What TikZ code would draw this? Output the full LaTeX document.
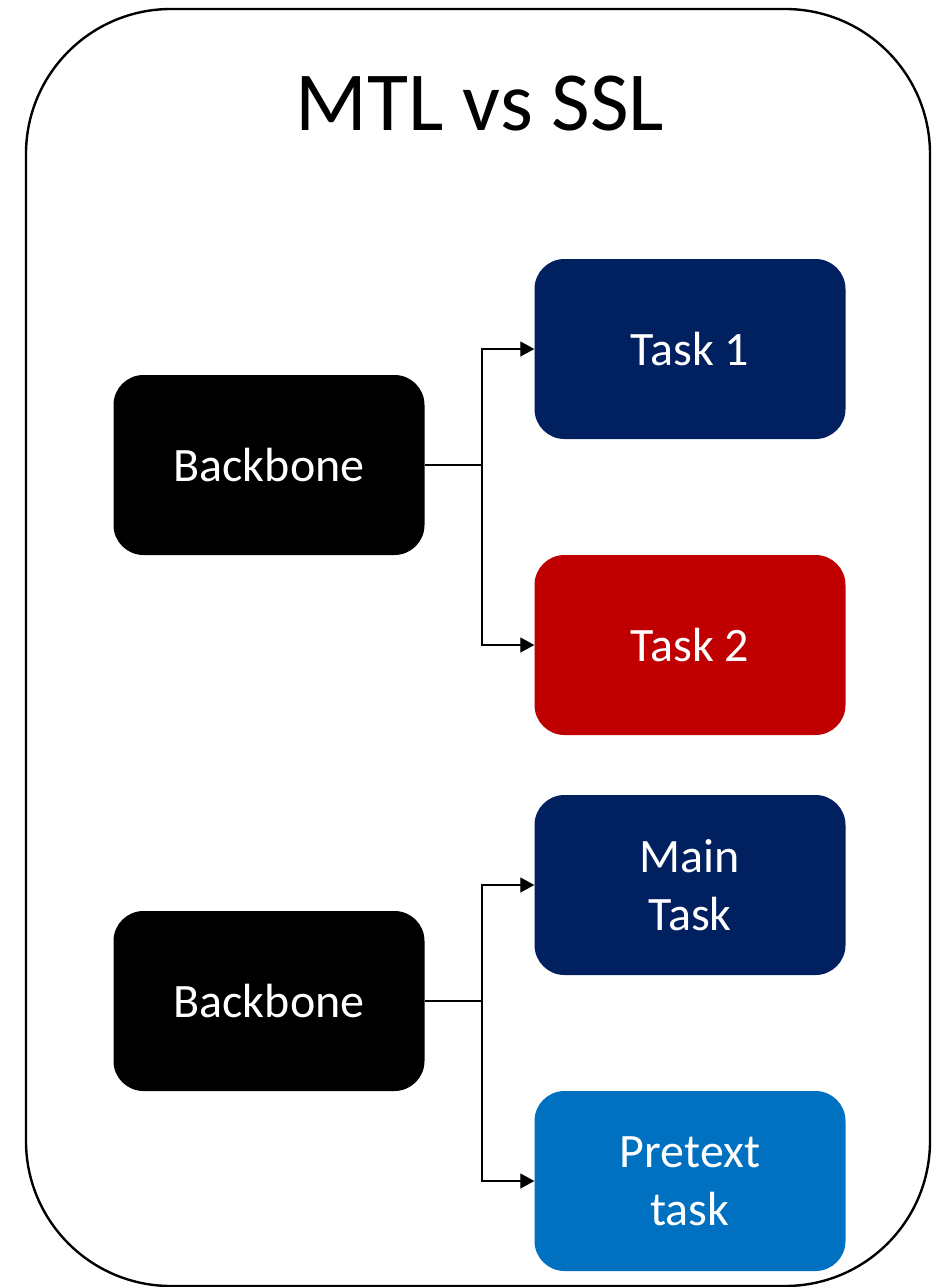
\documentclass[tikz,border=0pt]{standalone}
\usepackage{fontspec}
\setmainfont{Carlito}
\usetikzlibrary{arrows.meta}
\definecolor{navy}{HTML}{002060}
\definecolor{taskred}{HTML}{C00000}
\definecolor{taskblue}{HTML}{0070C0}
\tikzset{
  block/.style={rectangle, rounded corners=30pt, minimum width=311pt,
    minimum height=180pt, inner sep=0pt, text=white, align=center,
    font=\fontsize{48}{58}\selectfont},
  stub/.style={line width=1.8pt},
  branch/.style={line width=1.2pt, -{Triangle[length=14pt,width=15pt]}},
}
\begin{document}
\begin{tikzpicture}[x=1pt,y=-1pt]
  \useasboundingbox (0,0) rectangle (943,1287);
  % outer frame
  \draw[line width=2.4pt, rounded corners=145pt] (26,9) rectangle (930,1286);
  \node (title) at (480,104) {\fontsize{84}{100}\selectfont MTL vs SSL};

  % multi-task learning
  \node[block, fill=black] (bb1) at (269,465) {Backbone};
  \node[block, fill=navy] (t1) at (690,349) {Task 1};
  \node[block, fill=taskred] (t2) at (690,645) {Task 2};
  \coordinate (j1) at (482,465);
  \draw[stub] (bb1.east) -- (j1);
  \draw[branch] (j1) |- (t1.west);
  \draw[branch] (j1) |- (t2.west);

  % self-supervised learning
  \node[block, fill=black] (bb2) at (269,1001) {Backbone};
  \node[block, fill=navy] (main) at (690,885) {Main\\Task};
  \node[block, fill=taskblue] (pre) at (690,1181) {Pretext\\task};
  \coordinate (j2) at (482,1001);
  \draw[stub] (bb2.east) -- (j2);
  \draw[branch] (j2) |- (main.west);
  \draw[branch] (j2) |- (pre.west);
\end{tikzpicture}
\end{document}
